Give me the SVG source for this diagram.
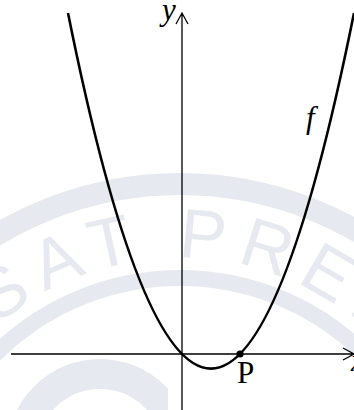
<svg xmlns="http://www.w3.org/2000/svg" width="354" height="410" viewBox="0 0 354 410">
<style>
.wm{fill:none;stroke:#e7e9f0}
.wmt{fill:#e7e9f0;font-family:"Liberation Sans",Arial,sans-serif;font-size:70px}
.axis{fill:none;stroke:#000;stroke-width:1.3}
.curve{fill:none;stroke:#000;stroke-width:2.6}
.lbl{font-family:"Liberation Serif","Times New Roman",serif;font-size:31px;fill:#000}
.it{font-style:italic}
</style>
<defs>
<path id="wmArc" d="M-102,540 A282,282 0 0 1 462,540"/>
<clipPath id="cl"><rect x="0" y="0" width="168" height="410"/></clipPath>
</defs>
<rect width="354" height="410" fill="#fff"/>
<g id="watermark">
<circle class="wm" cx="180" cy="540" r="356" stroke-width="22"/>
<circle class="wm" cx="180" cy="540" r="262" stroke-width="16"/>
<text class="wmt" letter-spacing="12"><textPath href="#wmArc" startOffset="461" text-anchor="middle">SAT PREP</textPath></text>
<g clip-path="url(#cl)">
<circle class="wm" cx="100" cy="452" r="78" stroke-width="30"/>
</g>
</g>
<g id="connectors">
<path id="y-axis" class="axis" d="M182,410 V13 M176,24 L182,13 L188,24"/>
<path id="x-axis" class="axis" d="M11,354 H354 M343,348 L354,354 L343,360"/>
</g>
<g id="f">
<path class="curve" d="M68,13 Q211,724.2 354,13"/>
<text class="lbl it" x="306" y="128">f</text>
</g>
<g id="P">
<circle cx="240" cy="354" r="3.6" fill="#000"/>
<text class="lbl" x="237" y="383">P</text>
</g>
<g id="y-label"><text class="lbl it" x="162" y="20">y</text></g>
<g id="x-label"><text class="lbl it" x="351" y="371">x</text></g>
</svg>
